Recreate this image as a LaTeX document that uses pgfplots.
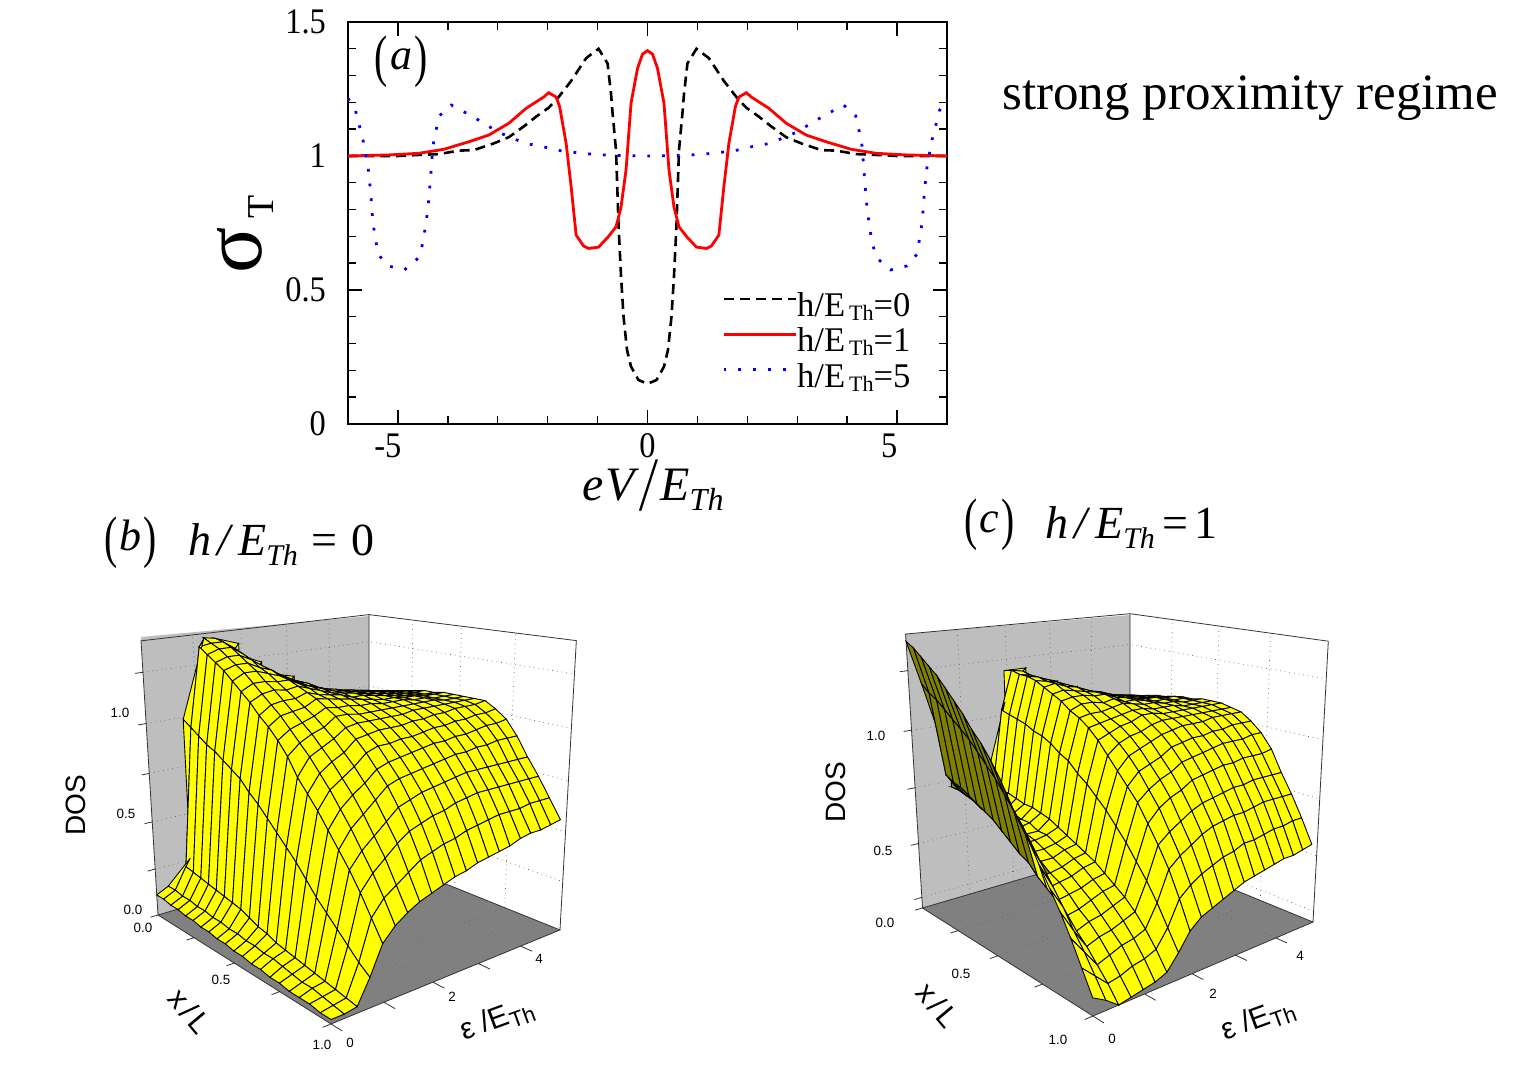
\documentclass[border=0pt]{standalone}
\usepackage{fontspec}
\setmainfont{Liberation Serif}
\newfontfamily\lsans{Liberation Sans}
\usepackage{pgfplots}
\usepackage{pgfplotstable}
\pgfplotsset{compat=1.18}
\newcommand{\fs}[1]{\fontsize{#1}{#1}\selectfont}
\newcommand{\tl}[1]{\scalebox{.9}[1]{#1}}
\newcommand{\bp}[1]{\raisebox{-.14em}{\scalebox{.9}[1.3]{#1}}}
\definecolor{wallgray}{RGB}{190,190,190}
\definecolor{floorgray}{RGB}{128,128,128}
\pgfplotsset{colormap={yo}{rgb(0cm)=(1,1,0); rgb(99cm)=(1,1,0); rgb(100cm)=(0.5,0.5,0)}}
% perspective of panels b and c: u=x/L, v=eps/5, w=scaled DOS
\pgfmathdeclarefunction{tb}{3}{\pgfmathparse{1-0.2107*#1+0.1584*#2-0.0746*#3}}
\pgfmathdeclarefunction{Xb}{3}{\pgfmathparse{(158+103.3*#1+269.4*#2-27.5*#3)/tb(#1,#2,#3)}}
\pgfmathdeclarefunction{Yb}{3}{\pgfmathparse{(915-106.8*#1+73.1*#2-322*#3)/tb(#1,#2,#3)}}
\pgfmathdeclarefunction{tc}{3}{\pgfmathparse{1-0.207*#1+0.1806*#2-0.0753*#3}}
\pgfmathdeclarefunction{Xc}{3}{\pgfmathparse{(922.5-55.8*#1+411.6*#2-85.1*#3)/tc(#1,#2,#3)}}
\pgfmathdeclarefunction{Yc}{3}{\pgfmathparse{(908-102.3*#1+92*#2-321.7*#3)/tc(#1,#2,#3)}}
% DOS, panel b: one line per energy from the top energy down to 0, x/L=0..1 in steps of .05
\pgfplotstableread[row sep=crcr,header=false]{
.98\\.99\\1.00\\1.01\\1.02\\1.03\\1.04\\1.05\\1.05\\1.06\\1.06\\1.06\\1.06\\1.06\\1.03\\.99\\.92\\.83\\.75\\.66\\.57\\
.99\\1.00\\1.00\\1.01\\1.02\\1.03\\1.04\\1.05\\1.05\\1.06\\1.06\\1.06\\1.06\\1.05\\1.02\\.98\\.92\\.83\\.75\\.66\\.56\\
1.00\\1.01\\1.01\\1.02\\1.03\\1.04\\1.05\\1.05\\1.06\\1.06\\1.06\\1.06\\1.06\\1.05\\1.02\\.98\\.92\\.83\\.75\\.66\\.55\\
1.01\\1.02\\1.02\\1.03\\1.04\\1.04\\1.05\\1.06\\1.06\\1.07\\1.07\\1.07\\1.06\\1.05\\1.01\\.97\\.91\\.83\\.75\\.65\\.55\\
1.02\\1.03\\1.03\\1.04\\1.05\\1.05\\1.06\\1.07\\1.07\\1.07\\1.07\\1.07\\1.06\\1.04\\1.01\\.96\\.91\\.83\\.75\\.65\\.54\\
1.03\\1.04\\1.05\\1.05\\1.06\\1.07\\1.07\\1.08\\1.08\\1.08\\1.08\\1.07\\1.06\\1.04\\1.00\\.96\\.90\\.83\\.75\\.65\\.52\\
1.05\\1.06\\1.06\\1.07\\1.08\\1.08\\1.09\\1.09\\1.09\\1.08\\1.08\\1.07\\1.06\\1.03\\1.00\\.95\\.90\\.83\\.75\\.64\\.51\\
1.09\\1.09\\1.09\\1.09\\1.09\\1.10\\1.10\\1.10\\1.10\\1.09\\1.08\\1.07\\1.05\\1.03\\.99\\.95\\.89\\.82\\.74\\.63\\.50\\
1.12\\1.12\\1.12\\1.12\\1.11\\1.11\\1.11\\1.11\\1.10\\1.10\\1.09\\1.07\\1.05\\1.02\\.98\\.94\\.88\\.81\\.73\\.62\\.49\\
1.15\\1.14\\1.14\\1.14\\1.13\\1.13\\1.13\\1.12\\1.12\\1.11\\1.09\\1.07\\1.05\\1.02\\.98\\.93\\.87\\.80\\.71\\.60\\.47\\
1.18\\1.17\\1.17\\1.17\\1.16\\1.15\\1.15\\1.14\\1.13\\1.12\\1.10\\1.07\\1.05\\1.02\\.97\\.92\\.86\\.79\\.70\\.59\\.46\\
1.22\\1.21\\1.21\\1.20\\1.19\\1.18\\1.17\\1.16\\1.14\\1.13\\1.10\\1.08\\1.05\\1.01\\.97\\.91\\.85\\.77\\.68\\.57\\.44\\
1.27\\1.26\\1.25\\1.24\\1.23\\1.21\\1.20\\1.18\\1.16\\1.14\\1.11\\1.08\\1.04\\1.00\\.95\\.89\\.83\\.75\\.66\\.55\\.42\\
1.33\\1.32\\1.30\\1.28\\1.25\\1.23\\1.20\\1.17\\1.14\\1.11\\1.08\\1.04\\1.00\\.95\\.90\\.84\\.78\\.70\\.62\\.51\\.40\\
1.37\\1.36\\1.34\\1.31\\1.28\\1.25\\1.21\\1.18\\1.14\\1.10\\1.06\\1.02\\.97\\.92\\.86\\.80\\.73\\.65\\.57\\.47\\.37\\
1.38\\1.36\\1.34\\1.31\\1.28\\1.25\\1.21\\1.17\\1.13\\1.09\\1.04\\.99\\.94\\.88\\.82\\.75\\.68\\.60\\.52\\.43\\.33\\
1.37\\1.35\\1.32\\1.29\\1.26\\1.22\\1.18\\1.14\\1.09\\1.05\\1.00\\.94\\.86\\.80\\.74\\.67\\.60\\.53\\.45\\.36\\.27\\
.99\\.96\\.93\\.90\\.88\\.85\\.82\\.79\\.74\\.70\\.65\\.60\\.55\\.50\\.44\\.38\\.33\\.28\\.23\\.18\\.14\\
.26\\.25\\.24\\.23\\.22\\.21\\.20\\.19\\.18\\.16\\.14\\.13\\.11\\.10\\.09\\.08\\.07\\.06\\.05\\.04\\.03\\
.14\\.14\\.13\\.13\\.12\\.12\\.11\\.11\\.10\\.10\\.09\\.09\\.08\\.08\\.07\\.06\\.05\\.05\\.04\\.03\\.02\\
.11\\.11\\.10\\.10\\.09\\.09\\.08\\.08\\.07\\.07\\.06\\.06\\.05\\.05\\.04\\.04\\.03\\.03\\.03\\.02\\.02\\
}\tabB
% DOS, panel c, same layout
\pgfplotstableread[row sep=crcr,header=false]{
1.00\\1.01\\1.02\\1.03\\1.04\\1.04\\1.05\\1.06\\1.06\\1.07\\1.07\\1.07\\1.06\\1.05\\1.02\\.98\\.92\\.83\\.75\\.66\\.56\\
1.01\\1.02\\1.03\\1.03\\1.04\\1.05\\1.06\\1.07\\1.07\\1.07\\1.07\\1.07\\1.06\\1.05\\1.02\\.98\\.91\\.83\\.75\\.66\\.55\\
1.02\\1.03\\1.03\\1.04\\1.05\\1.06\\1.07\\1.07\\1.07\\1.07\\1.07\\1.07\\1.06\\1.05\\1.02\\.97\\.91\\.83\\.75\\.65\\.54\\
1.03\\1.04\\1.04\\1.05\\1.06\\1.07\\1.07\\1.08\\1.08\\1.08\\1.07\\1.07\\1.06\\1.05\\1.01\\.97\\.91\\.83\\.75\\.65\\.54\\
1.04\\1.05\\1.05\\1.06\\1.07\\1.07\\1.08\\1.08\\1.08\\1.08\\1.08\\1.07\\1.06\\1.04\\1.01\\.97\\.90\\.82\\.74\\.64\\.53\\
1.06\\1.06\\1.07\\1.07\\1.08\\1.08\\1.09\\1.09\\1.09\\1.09\\1.08\\1.07\\1.06\\1.04\\1.00\\.96\\.90\\.82\\.73\\.63\\.52\\
1.08\\1.08\\1.09\\1.09\\1.10\\1.10\\1.10\\1.10\\1.10\\1.09\\1.08\\1.07\\1.06\\1.04\\1.00\\.95\\.89\\.81\\.73\\.63\\.51\\
1.10\\1.11\\1.11\\1.11\\1.11\\1.11\\1.11\\1.11\\1.10\\1.10\\1.09\\1.08\\1.06\\1.03\\.99\\.94\\.88\\.80\\.72\\.61\\.50\\
1.12\\1.13\\1.13\\1.13\\1.13\\1.13\\1.13\\1.13\\1.12\\1.11\\1.09\\1.08\\1.05\\1.02\\.98\\.93\\.87\\.79\\.71\\.60\\.48\\
1.15\\1.15\\1.15\\1.15\\1.15\\1.15\\1.14\\1.13\\1.11\\1.10\\1.08\\1.06\\1.03\\1.00\\.95\\.90\\.84\\.77\\.69\\.58\\.46\\
1.17\\1.17\\1.17\\1.17\\1.17\\1.16\\1.15\\1.14\\1.12\\1.09\\1.07\\1.05\\1.02\\.98\\.93\\.88\\.82\\.74\\.66\\.56\\.44\\
1.20\\1.20\\1.19\\1.19\\1.18\\1.18\\1.16\\1.14\\1.12\\1.09\\1.06\\1.03\\1.00\\.96\\.91\\.85\\.79\\.71\\.63\\.53\\.42\\
1.20\\1.21\\1.20\\1.20\\1.19\\1.17\\1.15\\1.13\\1.10\\1.08\\1.05\\1.01\\.96\\.91\\.86\\.81\\.74\\.67\\.59\\.49\\.38\\
1.06\\1.04\\1.03\\1.02\\1.01\\.99\\.98\\.96\\.93\\.91\\.87\\.84\\.80\\.76\\.71\\.66\\.60\\.54\\.47\\.39\\.31\\
.71\\.70\\.70\\.70\\.69\\.68\\.68\\.67\\.66\\.64\\.62\\.60\\.58\\.56\\.53\\.50\\.47\\.43\\.38\\.32\\.25\\
.67\\.67\\.66\\.66\\.65\\.65\\.64\\.64\\.62\\.62\\.60\\.59\\.57\\.55\\.52\\.49\\.45\\.41\\.36\\.30\\.23\\
.68\\.68\\.67\\.67\\.66\\.65\\.64\\.63\\.62\\.61\\.59\\.57\\.55\\.53\\.50\\.47\\.43\\.39\\.35\\.29\\.22\\
.72\\.72\\.71\\.70\\.68\\.67\\.66\\.64\\.62\\.61\\.59\\.57\\.54\\.52\\.49\\.45\\.42\\.38\\.33\\.27\\.21\\
.81\\.80\\.78\\.77\\.75\\.73\\.71\\.69\\.66\\.63\\.60\\.58\\.54\\.51\\.48\\.44\\.40\\.36\\.31\\.26\\.20\\
1.19\\1.16\\1.14\\1.11\\1.08\\1.05\\1.02\\.98\\.94\\.90\\.85\\.80\\.75\\.69\\.63\\.57\\.51\\.44\\.38\\.31\\.24\\
1.37\\1.35\\1.32\\1.29\\1.26\\1.22\\1.18\\1.14\\1.09\\1.05\\1.00\\.94\\.86\\.80\\.74\\.67\\.60\\.53\\.45\\.36\\.27\\
}\tabC
% dotted grid of the box
\pgfplotstableread{
u e z
0 1 0
0 1 1.4
nan nan nan
0 2 0
0 2 1.4
nan nan nan
0 3 0
0 3 1.4
nan nan nan
0 4 0
0 4 1.4
nan nan nan
0.25 5 0
0.25 5 1.4
nan nan nan
0.5 5 0
0.5 5 1.4
nan nan nan
0.75 5 0
0.75 5 1.4
nan nan nan
0 0 0.25
0 5 0.25
1 5 0.25
nan nan nan
0 0 0.5
0 5 0.5
1 5 0.5
nan nan nan
0 0 0.75
0 5 0.75
1 5 0.75
nan nan nan
0 0 1
0 5 1
1 5 1
nan nan nan
0 0 1.25
0 5 1.25
1 5 1.25
nan nan nan
0.25 0 0
0.25 5 0
nan nan nan
0.5 0 0
0.5 5 0
nan nan nan
0.75 0 0
0.75 5 0
nan nan nan
0 1 0
1 1 0
nan nan nan
0 2 0
1 2 0
nan nan nan
0 3 0
1 3 0
nan nan nan
0 4 0
1 4 0
}\tabGrid
% box edges and ticks
\pgfplotstableread{
u e z
0 -0.15 0
0 0 0
1.05 0 0
nan nan nan
1 -0.15 0
1 5 0
0 5 0
0 0 0
nan nan nan
0 0 0
0 0 1.4
0 5 1.4
1 5 1.4
1 5 0
nan nan nan
0 5 0
0 5 1.4
nan nan nan
0.25 0 0
0.25 -0.15 0
nan nan nan
0.5 0 0
0.5 -0.15 0
nan nan nan
0.75 0 0
0.75 -0.15 0
nan nan nan
1 1 0
1.05 1 0
nan nan nan
1 2 0
1.05 2 0
nan nan nan
1 3 0
1.05 3 0
nan nan nan
1 4 0
1.05 4 0
nan nan nan
0 0 0.25
0 -0.15 0.25
nan nan nan
0 0 0.5
0 -0.15 0.5
nan nan nan
0 0 0.75
0 -0.15 0.75
nan nan nan
0 0 1
0 -0.15 1
nan nan nan
0 0 1.25
0 -0.15 1.25
}\tabBox
\newcommand{\WC}{(\thisrow{z}-0.2)/1.2*(\thisrow{z}>0)}
\newcommand{\VV}{0.97*(1-floor(\coordindex/21)/20)}
\begin{document}
\begin{tikzpicture}
\path[use as bounding box] (0,0) rectangle (763pt,538pt);
\begin{axis}[at={(0pt,0pt)},anchor=south west,width=763pt,height=538pt,scale only axis,
  xmin=0,xmax=1526,ymin=0,ymax=1076,y dir=reverse,hide axis,clip=false,
  colormap name=yo,point meta min=0,point meta max=1,unbounded coords=jump]
 % panel b
 \fill[wallgray] (axis cs:158,915)--(axis cs:369,853)--(axis cs:369,616)--(axis cs:141,637)--cycle;
 \fill[floorgray] (axis cs:158,915)--(axis cs:331,1024)--(axis cs:560,930)--(axis cs:369,853)--cycle;
 \addplot[black!60,dotted,line width=.35pt] table[x expr={Xb(\thisrow{u},\thisrow{e}/5,\thisrow{z}/1.4)},y expr={Yb(\thisrow{u},\thisrow{e}/5,\thisrow{z}/1.4)}] {\tabGrid};
 \addplot[black!80,line width=.4pt] table[x expr={Xb(\thisrow{u},\thisrow{e}/5,\thisrow{z}/1.4)},y expr={Yb(\thisrow{u},\thisrow{e}/5,\thisrow{z}/1.4)}] {\tabBox};
 \addplot[surf,shader=faceted,faceted color=black,line width=.45pt,mesh/cols=21,point meta=0]
   table[x index=0,y index=0,x expr={Xb(mod(\coordindex,21)/20,\VV,\thisrowno{0}/1.4)},
         y expr={Yb(mod(\coordindex,21)/20,\VV,\thisrowno{0}/1.4)}] {\tabB};
 % panel c
 \fill[wallgray] (axis cs:922.5,908)--(axis cs:1130,847)--(axis cs:1130,615)--(axis cs:905.6,634)--cycle;
 \fill[floorgray] (axis cs:922.5,908)--(axis cs:1093,1016)--(axis cs:1313,922)--(axis cs:1130,847)--cycle;
 \addplot[black!60,dotted,line width=.35pt] table[x expr={Xc(\thisrow{u},\thisrow{e}/5,\WC)},y expr={Yc(\thisrow{u},\thisrow{e}/5,\WC)}] {\tabGrid};
 \addplot[black!80,line width=.4pt] table[x expr={Xc(\thisrow{u},\thisrow{e}/5,\WC)},y expr={Yc(\thisrow{u},\thisrow{e}/5,\WC)}] {\tabBox};
 \addplot[surf,shader=faceted,faceted color=black,line width=.45pt,mesh/cols=21,
     point meta={(mod(\coordindex,21)<12.5)*(floor(\coordindex/21)>16.5)}]
   table[x index=0,y index=0,x expr={Xc(mod(\coordindex,21)/20,\VV,(\thisrowno{0}-0.2)/1.2)},
         y expr={Yc(mod(\coordindex,21)/20,\VV,(\thisrowno{0}-0.2)/1.2)}] {\tabC};
\end{axis}
\begin{axis}[at={(174pt,326pt)},anchor=south west,width=299.5pt,height=201pt,scale only axis,
  xmin=-6,xmax=6,ymin=0,ymax=1.5,
  xtick={-5,0,5},xticklabels={\kern-10pt \tl{-5},\tl{0},\kern-8pt \tl{5}},
  ytick={0,0.5,1,1.5},yticklabels={\tl{0},\tl{0.5},\tl{1},\tl{1.5}},
  minor x tick num=4,minor y tick num=4,tick align=inside,
  major tick length=7pt,minor tick length=4pt,
  axis line style={line width=1pt},every tick/.style={black,line width=.7pt},
  tick label style={font=\fs{18}},
  yticklabel style={xshift=-7.5pt},xticklabel style={yshift=-1.5pt},
  legend cell align=left,
  legend image code/.code={\draw[#1] (0pt,3.5pt) -- (36pt,3.5pt);},
  legend style={draw=none,fill=none,at={(axis cs:1.49,0.125)},anchor=south west,font=\fs{17.3},inner sep=0pt,
     row sep=4.1pt,nodes={inner sep=0pt,outer sep=0pt},
     /tikz/every even column/.append style={column sep=0pt}},
]
\addplot[black,line width=1.3pt,dash pattern=on 5pt off 3pt] coordinates {
(-6,1)(-5,1)(-4.58,1.004)(-4.18,1.007)(-3.78,1.02)(-3.48,1.022)(-3.08,1.047)(-2.78,1.07)(-2.48,1.11)(-2.23,1.147)(-1.98,1.18)(-1.78,1.22)(-1.53,1.28)(-1.23,1.365)(-0.98,1.40)(-0.8,1.345)(-0.73,1.23)(-0.7,1.16)(-0.63,1.02)(-0.58,0.74)(-0.53,0.55)(-0.48,0.40)(-0.41,0.276)(-0.33,0.214)(-0.18,0.164)(0,0.15)
(0.18,0.164)(0.33,0.214)(0.41,0.276)(0.48,0.40)(0.53,0.55)(0.58,0.74)(0.63,1.02)(0.7,1.16)(0.73,1.23)(0.8,1.345)(0.98,1.40)(1.23,1.365)(1.53,1.28)(1.78,1.22)(1.98,1.18)(2.23,1.147)(2.48,1.11)(2.78,1.07)(3.08,1.047)(3.48,1.022)(3.78,1.02)(4.18,1.007)(4.58,1.004)(5,1)(6,1)};
\addlegendentry{h/E\kern2pt\raisebox{-2pt}{\fs{11}Th}=0}
\addplot[red,line width=1.4pt] coordinates {
(-6,1)(-5.18,1.004)(-4.58,1.01)(-4.08,1.025)(-3.58,1.053)(-3.18,1.078)(-2.78,1.122)(-2.43,1.178)(-2.08,1.22)(-1.98,1.236)(-1.83,1.22)(-1.76,1.184)(-1.63,1.047)(-1.53,0.886)(-1.43,0.705)(-1.28,0.664)(-1.18,0.655)(-0.98,0.66)(-0.78,0.70)(-0.63,0.736)(-0.53,0.81)(-0.43,0.948)(-0.33,1.197)(-0.2,1.327)(-0.1,1.38)(0,1.393)
(0.1,1.38)(0.2,1.327)(0.33,1.197)(0.43,0.948)(0.53,0.81)(0.63,0.736)(0.78,0.70)(0.98,0.66)(1.18,0.655)(1.28,0.664)(1.43,0.705)(1.53,0.886)(1.63,1.047)(1.76,1.184)(1.83,1.22)(1.98,1.236)(2.08,1.22)(2.43,1.178)(2.78,1.122)(3.18,1.078)(3.58,1.053)(4.08,1.025)(4.58,1.01)(5.18,1.004)(6,1)};
\addlegendentry{h/E\kern2pt\raisebox{-2pt}{\fs{11}Th}=1}
\addplot[blue,line width=1.4pt,dash pattern=on 1.4pt off 6pt] coordinates {
(-6,1.215)(-5.85,1.17)(-5.7,1.06)(-5.6,0.96)(-5.55,0.873)(-5.5,0.75)(-5.45,0.693)(-5.4,0.634)(-5.2,0.59)(-4.87,0.575)(-4.6,0.618)(-4.5,0.674)(-4.45,0.736)(-4.4,0.80)(-4.35,0.91)(-4.3,1.035)(-4.25,1.085)(-4.17,1.15)(-3.93,1.19)(-3.63,1.16)(-3.33,1.128)(-3,1.09)(-2.75,1.07)(-2.45,1.047)(-2.1,1.035)(-1.75,1.02)(-1.4,1.012)(-1.07,1.006)(-0.7,1.002)(0,1)
(0.7,1.002)(1.07,1.006)(1.4,1.012)(1.75,1.02)(2.1,1.035)(2.45,1.047)(2.75,1.07)(3,1.09)(3.33,1.128)(3.63,1.16)(3.93,1.19)(4.17,1.15)(4.25,1.085)(4.3,1.035)(4.35,0.91)(4.4,0.80)(4.45,0.736)(4.5,0.674)(4.6,0.618)(4.87,0.575)(5.2,0.59)(5.4,0.634)(5.45,0.693)(5.5,0.75)(5.55,0.873)(5.6,0.96)(5.7,1.06)(5.85,1.17)(6,1.215)};
\addlegendentry{h/E\kern2pt\raisebox{-2pt}{\fs{11}Th}=5}
\end{axis}
\begin{scope}[x=.5pt,y=-.5pt,shift={(0pt,538pt)}]
\node[anchor=center] at (401,62) {\fs{22}\bp{(}\kern1pt\textit{a}\kern1pt\bp{)}};
\node[rotate=90] at (240,250) {\fs{43}σ};
\node[rotate=90] at (261,207) {\fs{19}T};
\node at (653,486) {\fs{24}\itshape e\kern1pt V\kern3pt\raisebox{-5pt}{\scalebox{1}[1.6]{/}}\kern3pt E\raisebox{-5pt}{\fs{16}Th}};
\node[anchor=west,inner sep=0pt] at (1002,98) {\fs{25.5}strong proximity regime};
\node[anchor=west,inner sep=0pt] at (104,543) {\fs{22}\bp{(}\kern1pt\textit{b}\kern1pt\bp{)}};
\node[anchor=west,inner sep=0pt] at (188,545) {\fs{23}\itshape h\kern3pt/\kern4pt E\raisebox{-5pt}{\fs{15}Th}\kern7pt\upshape =\kern7pt 0};
\node[anchor=west,inner sep=0pt] at (964,525) {\fs{22}\bp{(}\kern1pt\textit{c}\kern1pt\bp{)}};
\node[anchor=west,inner sep=0pt] at (1045,528) {\fs{23}\itshape h\kern3pt/\kern4pt E\raisebox{-5pt}{\fs{15}Th}\kern4pt\upshape =\kern3pt 1};
\begin{scope}[every node/.style={font=\lsans\fs{6.7},inner sep=0pt}]
\node at (120,713) {1.0};\node at (126,814) {0.5};\node at (133,910) {0.0};
\node at (143,928) {0.0};\node at (221,980) {0.5};\node at (322,1045) {1.0};
\node at (350,1043) {0};\node at (452,997) {2};\node at (539,959) {4};
\node at (876,736) {1.0};\node at (883,851) {0.5};
\node at (885,923) {0.0};\node at (961,974) {0.5};\node at (1058,1040) {1.0};
\node at (1112,1039) {0};\node at (1213,994) {2};\node at (1300,956) {4};
\end{scope}
\begin{scope}[every node/.style={font=\lsans\fs{14},inner sep=0pt}]
\node[rotate=90] at (76,805) {DOS};
\node[rotate=90] at (836,792) {DOS};
\node[rotate=-50] at (190,1011) {\fs{15}x\kern2pt/\kern2pt L};
\node[rotate=-50] at (938,1005) {\fs{15}x\kern2pt/\kern2pt L};
\node[rotate=20] at (497,1020) {\fs{15}ε /E\raisebox{-3pt}{\fs{11}Th}};
\node[rotate=20] at (1258,1020) {\fs{15}ε /E\raisebox{-3pt}{\fs{11}Th}};
\end{scope}
\end{scope}
\end{tikzpicture}
\end{document}
